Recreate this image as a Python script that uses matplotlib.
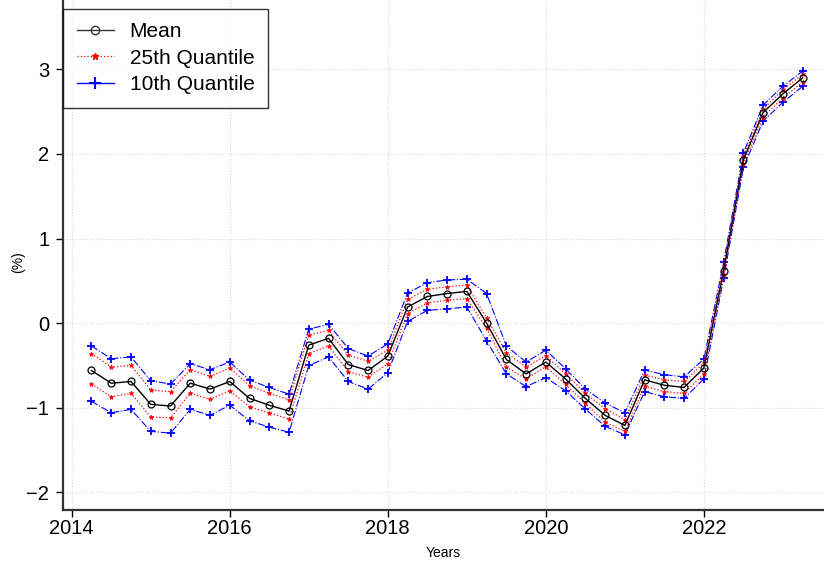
import matplotlib
matplotlib.use('Agg')
import matplotlib.pyplot as plt
from matplotlib.lines import Line2D
import numpy as np

plt.rcParams['font.family'] = ['Liberation Sans', 'DejaVu Sans']

# Quarterly observations, 2014Q2 - 2023Q2
years = np.arange(2014.25, 2023.26, 0.25)

mean = [-0.56, -0.71, -0.69, -0.96, -0.98, -0.71, -0.78, -0.69, -0.89, -0.97,
        -1.04, -0.26, -0.18, -0.49, -0.56, -0.39, 0.19, 0.315, 0.35, 0.375,
        0.0, -0.43, -0.6, -0.46, -0.66, -0.89, -1.09, -1.21, -0.67, -0.735,
        -0.76, -0.53, 0.62, 1.93, 2.49, 2.71, 2.90]

q25_hi = [-0.36, -0.52, -0.50, -0.79, -0.81, -0.55, -0.63, -0.53, -0.74, -0.83,
          -0.905, -0.14, -0.087, -0.38, -0.45, -0.32, 0.28, 0.40, 0.43, 0.45,
          0.06, -0.35, -0.52, -0.385, -0.60, -0.83, -1.01, -1.14, -0.615, -0.67,
          -0.69, -0.47, 0.67, 1.97, 2.53, 2.76, 2.94]
q25_lo = [-0.72, -0.87, -0.83, -1.11, -1.12, -0.83, -0.90, -0.80, -0.99, -1.06,
          -1.135, -0.36, -0.27, -0.575, -0.64, -0.48, 0.11, 0.24, 0.27, 0.29,
          -0.06, -0.52, -0.66, -0.515, -0.725, -0.95, -1.17, -1.28, -0.745, -0.81,
          -0.83, -0.60, 0.57, 1.88, 2.44, 2.66, 2.85]

q10_hi = [-0.27, -0.42, -0.40, -0.68, -0.72, -0.48, -0.55, -0.46, -0.675, -0.76,
          -0.84, -0.07, -0.015, -0.30, -0.39, -0.245, 0.355, 0.478, 0.51, 0.52,
          0.35, -0.27, -0.46, -0.32, -0.54, -0.78, -0.945, -1.06, -0.555, -0.61,
          -0.635, -0.425, 0.72, 2.01, 2.58, 2.80, 2.98]
q10_lo = [-0.925, -1.06, -1.02, -1.28, -1.30, -1.02, -1.09, -0.97, -1.155, -1.23,
          -1.29, -0.50, -0.40, -0.69, -0.78, -0.585, 0.02, 0.15, 0.17, 0.19,
          -0.21, -0.60, -0.75, -0.645, -0.80, -1.015, -1.22, -1.32, -0.81, -0.87,
          -0.89, -0.66, 0.53, 1.84, 2.39, 2.61, 2.80]

fig = plt.figure(figsize=(8.24, 5.68), dpi=100)
ax = fig.add_axes([0.0765, 0.102, 0.9235, 0.898])

# Quantile bands first, mean on top
for band in (q10_hi, q10_lo):
    ax.plot(years, band, color='blue', linestyle='-.', linewidth=0.8,
            marker='+', markersize=6, markeredgewidth=1.3)
for band in (q25_hi, q25_lo):
    ax.plot(years, band, color='red', linestyle=':', linewidth=0.9,
            marker='*', markersize=3.5, markeredgewidth=0.5)
ax.plot(years, mean, color='black', linewidth=1.0, marker='o', markersize=5,
        markerfacecolor='none', markeredgewidth=0.9)

ax.set_xlim(2013.89, 2023.52)
ax.set_ylim(-2.21, 3.82)
ax.set_xticks([2014, 2016, 2018, 2020, 2022])
ax.set_yticks([-2, -1, 0, 1, 2, 3])
ax.set_yticklabels(['\u22122', '\u22121', '0', '1', '2', '3'])
ax.tick_params(axis='both', labelsize=14.5, length=5, width=1)
ax.tick_params(axis='x', pad=1.5)
ax.tick_params(axis='y', pad=5)

ax.grid(True, color='#d8d8d8', linestyle=':', linewidth=0.8)
ax.set_axisbelow(True)

for side in ['top', 'right']:
    ax.spines[side].set_visible(False)
for side in ['left', 'bottom']:
    ax.spines[side].set_linewidth(1.6)
    ax.spines[side].set_color('#333333')

ax.set_xlabel('Years', fontsize=10)
ax.set_ylabel('(%)', fontsize=10)
ax.xaxis.set_label_coords(0.5, -0.07)
ax.yaxis.set_label_coords(-0.05, 0.486)

legend_handles = [
    Line2D([], [], color='#333333', linewidth=1.0, marker='o', markersize=6,
           markerfacecolor='none', markeredgewidth=1.0),
    Line2D([], [], color='red', linestyle=':', linewidth=0.9, marker='*',
           markersize=5),
    Line2D([], [], color='blue', linewidth=1.0, marker='+', markersize=9,
           markeredgewidth=1.5),
]
leg = ax.legend(legend_handles, ['Mean', '25th Quantile', '10th Quantile'],
                loc='upper left', bbox_to_anchor=(0.0, 0.983), fontsize=15,
                frameon=True, fancybox=False, edgecolor='black',
                handlelength=1.8, handletextpad=0.75, labelspacing=0.36,
                borderpad=0.65, borderaxespad=0.0)
leg.get_frame().set_linewidth(1.0)

fig.savefig('out.png', dpi=100)
